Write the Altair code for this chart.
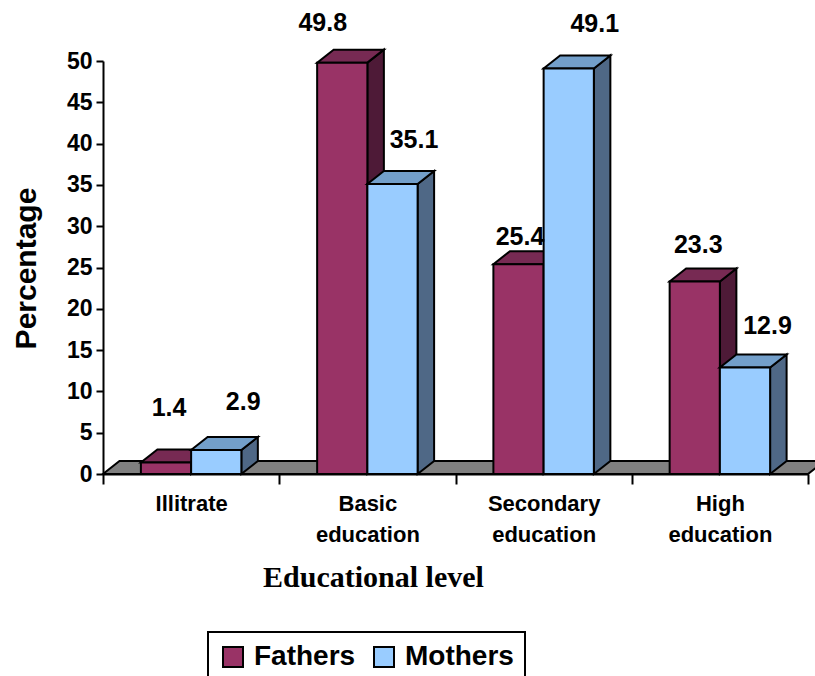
import altair as alt
import pandas as pd

# ---- data -------------------------------------------------------------
CATEGORIES = ["Illitrate", "Basic education", "Secondary education", "High education"]
AXIS_LABELS = [["Illitrate"], ["Basic", "education"], ["Secondary", "education"], ["High", "education"]]
SERIES = ["Fathers", "Mothers"]
FATHERS = [1.4, 49.8, 25.4, 23.3]
MOTHERS = [2.9, 35.1, 49.1, 12.9]
Y_TICKS = [0, 5, 10, 15, 20, 25, 30, 35, 40, 45, 50]

# ---- layout / style ---------------------------------------------------
PLOT_W, PLOT_H = 705, 413
X_MAX, Y_MAX = len(CATEGORIES), 50
PX_X = PLOT_W / X_MAX          # pixels per x unit
PX_Y = PLOT_H / Y_MAX          # pixels per percentage point
DEPTH_X = 16.5 / PX_X          # 3-D depth offset, in data units
DEPTH_Y = 13.0 / PX_Y
BAR_W = 0.285                  # bar width in x units

SANS = "Liberation Sans"
SERIF = "Liberation Serif"

FACE_COLORS = {
    "Fathers": {"front": "#993366", "top": "#772a53", "side": "#4e1a37"},
    "Mothers": {"front": "#99ccff", "top": "#739fca", "side": "#4f6886"},
}
FLOOR_COLOR = "#808080"

# label nudges (pixels) relative to the top-centre of each bar's front face
LABEL_NUDGE = {
    "Fathers": [(3, -54), (-19.5, -40), (1.5, -27), (3.5, -37)],
    "Mothers": [(27, -48), (21.5, -44.5), (26, -44), (22.5, -41)],
}

VALUES = {"Fathers": FATHERS, "Mothers": MOTHERS}

# ---- geometry tables built from the values ------------------------------
fronts, tops, sides, labels = {}, {}, {}, []
for s in SERIES:
    f_rows, t_rows, s_rows = [], [], []
    for i, v in enumerate(VALUES[s]):
        c = i + 0.5
        xl, xr = (c - BAR_W, c) if s == "Fathers" else (c, c + BAR_W)
        bar = f"{s}-{i}"
        f_rows.append({"bar": bar, "series": s, "x1": xl, "x2": xr, "v": v, "base": 0})
        for x, lo, hi in [
            (xl, v, v),
            (xl + DEPTH_X, v, v + DEPTH_Y),
            (xr, v, v + DEPTH_Y),
            (xr + DEPTH_X, v + DEPTH_Y, v + DEPTH_Y),
        ]:
            t_rows.append({"bar": bar, "x": x, "lo": lo, "hi": hi})
        for x, lo, hi in [(xr, 0, v), (xr + DEPTH_X, DEPTH_Y, v + DEPTH_Y)]:
            s_rows.append({"bar": bar, "x": x, "lo": lo, "hi": hi})
        nx, ny = LABEL_NUDGE[s][i]
        labels.append({
            "lx": (xl + xr) / 2 + nx / PX_X,
            "ly": v - ny / PX_Y,
            "text": f"{v:.1f}",
        })
    fronts[s] = pd.DataFrame(f_rows)
    tops[s] = pd.DataFrame(t_rows)
    sides[s] = pd.DataFrame(s_rows)

floor_df = pd.DataFrame({
    "x": [0, DEPTH_X, X_MAX, X_MAX + DEPTH_X],
    "lo": [0, 0, 0, DEPTH_Y],
    "hi": [0, DEPTH_Y, DEPTH_Y, DEPTH_Y],
})
label_df = pd.DataFrame(labels)

# ---- scales and axes --------------------------------------------------
x_scale = alt.Scale(domain=[0, X_MAX], nice=False, zero=False)
y_scale = alt.Scale(domain=[0, Y_MAX], nice=False)

label_expr = ""
for i, parts in enumerate(AXIS_LABELS):
    arr = "[" + ",".join(f"'{p}'" for p in parts) + "]"
    label_expr += f"datum.value == {i + 0.5} ? {arr} : "
label_expr += "''"

x_axis = alt.Axis(
    values=[k / 2 for k in range(2 * X_MAX + 1)],
    labelExpr=label_expr,
    tickOpacity={"condition": {"test": "datum.value % 1 != 0", "value": 0}, "value": 1},
    title="Educational level",
    titleFont=SERIF, titleFontSize=30, titleFontWeight="bold", titleColor="black",
    titleX=270, titleY=112, titleAnchor="middle", titleAlign="center",
    titleBaseline="alphabetic",
    labelFont=SANS, labelFontSize=22, labelFontWeight="bold", labelColor="black",
    labelLineHeight=31, labelPadding=9, labelOverlap=False, labelFlush=False,
    labelBaseline="top",
    tickSize=10, tickWidth=2, tickColor="black",
    domainColor="black", domainWidth=2, grid=False,
)
y_axis = alt.Axis(
    values=Y_TICKS,
    title="Percentage",
    titleFont=SANS, titleFontSize=30, titleFontWeight="bold", titleColor="black",
    titleX=-77, titleY=207, titleAlign="center", titleBaseline="middle", titleAngle=-90,
    labelFont=SANS, labelFontSize=23, labelFontWeight="bold", labelColor="black",
    labelPadding=4,
    tickSize=7, tickWidth=2, tickColor="black",
    domainColor="black", domainWidth=2, grid=False,
)


def X(field):
    return alt.X(f"{field}:Q", scale=x_scale, axis=x_axis)


def Y(field):
    return alt.Y(f"{field}:Q", scale=y_scale, axis=y_axis)


def poly(df, fill):
    return alt.Chart(df).mark_area(
        fill=fill, stroke="black", strokeWidth=2, strokeJoin="miter", opacity=1
    ).encode(x=X("x"), y=Y("lo"), y2="hi:Q", detail="bar:N")


color = alt.Color(
    "series:N",
    scale=alt.Scale(domain=SERIES, range=[FACE_COLORS[s]["front"] for s in SERIES]),
    legend=alt.Legend(
        title=None, orient="none", legendX=105, legendY=571, direction="horizontal",
        symbolType="square", symbolSize=400, symbolStrokeColor="black",
        symbolStrokeWidth=2, symbolOpacity=1,
        labelFont=SANS, labelFontSize=28, labelFontWeight="bold", labelColor="black",
        labelOffset=7, columnPadding=14, padding=11,
        strokeColor="black", fillColor="white",
    ),
)


def front(df):
    return alt.Chart(df).mark_rect(stroke="black", strokeWidth=2, opacity=1).encode(
        x=X("x1"), x2="x2:Q", y=Y("base"), y2="v:Q", color=color
    )


layers = [poly(floor_df, FLOOR_COLOR)]
for s in SERIES:
    layers += [
        poly(sides[s], FACE_COLORS[s]["side"]),
        poly(tops[s], FACE_COLORS[s]["top"]),
        front(fronts[s]),
    ]

value_labels = alt.Chart(label_df).mark_text(
    font=SANS, fontSize=25, fontWeight="bold", color="black",
    align="center", baseline="middle",
).encode(x=X("lx"), y=Y("ly"), text="text:N")
layers.append(value_labels)

chart = (
    alt.layer(*layers)
    .properties(
        width=PLOT_W, height=PLOT_H,
        padding={"left": 103, "top": 61, "right": 7, "bottom": 202},
        autosize=alt.AutoSizeParams(type="none"),
        background="white",
    )
    .configure_view(stroke=None)
    .configure_legend(strokeWidth=2)
)

chart.save("out.html", embed_options={"renderer": "svg", "actions": False})
